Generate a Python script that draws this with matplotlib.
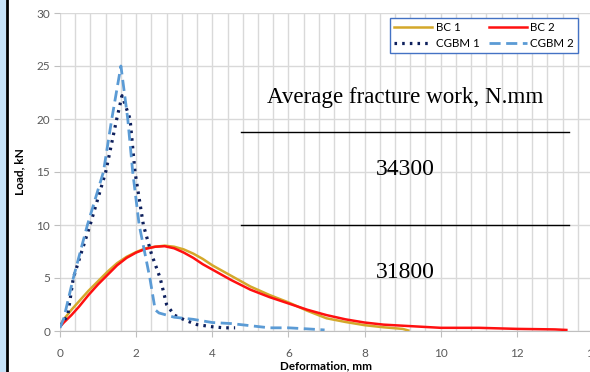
import numpy as np
import matplotlib.pyplot as plt
from matplotlib.patches import Rectangle
from matplotlib.lines import Line2D

# --- data (deformation mm, load kN) ---
bc1_x = [0.0, 0.1, 0.3, 0.5, 0.75, 1.0, 1.25, 1.5, 1.75, 2.0, 2.25, 2.5, 2.75, 3.0,
         3.25, 3.5, 3.75, 4.0, 4.5, 5.0, 5.5, 6.0, 6.5, 7.0, 7.5, 8.0, 8.5, 9.0, 9.15]
bc1_y = [0.5, 1.1, 2.0, 2.8, 3.8, 4.7, 5.6, 6.4, 7.0, 7.45, 7.8, 7.95, 8.05, 7.95,
         7.7, 7.3, 6.8, 6.2, 5.2, 4.2, 3.4, 2.7, 1.9, 1.2, 0.85, 0.55, 0.35, 0.2, 0.05]

bc2_x = [0.0, 0.1, 0.3, 0.5, 0.75, 1.0, 1.25, 1.5, 1.75, 2.0, 2.25, 2.5, 2.75, 3.0,
         3.25, 3.5, 3.75, 4.0, 4.5, 5.0, 5.5, 6.0, 6.5, 7.0, 7.5, 8.0, 8.5, 9.0,
         9.5, 10.0, 11.0, 12.0, 13.0, 13.3]
bc2_y = [0.4, 0.8, 1.5, 2.3, 3.4, 4.4, 5.3, 6.2, 6.9, 7.4, 7.75, 7.95, 8.0, 7.8,
         7.4, 6.9, 6.3, 5.8, 4.8, 3.9, 3.2, 2.6, 2.0, 1.5, 1.1, 0.8, 0.6, 0.5,
         0.4, 0.3, 0.3, 0.2, 0.15, 0.1]

cgbm1_x = [0.0, 0.1, 0.2, 0.35, 0.79, 1.2, 1.49, 1.63, 1.84, 1.97, 2.19, 2.4,
           2.63, 2.8, 3.0, 3.3, 3.6, 4.0, 4.3, 4.6]
cgbm1_y = [0.5, 1.0, 1.4, 5.0, 10.0, 15.0, 20.0, 22.2, 20.0, 15.0, 10.0, 7.3,
           5.0, 2.5, 1.5, 1.0, 0.6, 0.4, 0.3, 0.3]

cgbm2_x = [0.0, 0.1, 0.35, 0.72, 1.14, 1.36, 1.6, 1.78, 1.91, 2.08, 2.36, 2.5,
           2.6, 3.0, 3.5, 4.0, 4.5, 5.0, 5.5, 6.0, 6.5, 6.95]
cgbm2_y = [0.3, 1.2, 5.0, 10.0, 15.0, 20.0, 25.0, 20.0, 15.0, 10.0, 5.0, 2.0,
           1.7, 1.3, 1.1, 0.8, 0.7, 0.5, 0.3, 0.3, 0.2, 0.1]

work_title = "Average fracture work, N.mm"
work_values = ["34300", "31800"]

fig = plt.figure(figsize=(5.9, 3.72), dpi=100)
ax = fig.add_axes([60/590, 41/372, 533/590, 318/372])

l_bc1, = ax.plot(bc1_x, bc1_y, color="#d4a82a", lw=1.8, label="BC 1", zorder=3)
l_bc2, = ax.plot(bc2_x, bc2_y, color="#ff1010", lw=1.8, label="BC 2", zorder=4)
l_cg1, = ax.plot(cgbm1_x, cgbm1_y, color="#0d1f5c", lw=2.3, linestyle=(0, (0.8, 1.6)),
                 label="CGBM 1", zorder=5)
l_cg2, = ax.plot(cgbm2_x, cgbm2_y, color="#5b9bd5", lw=2.0, linestyle=(0, (4, 2)),
                 label="CGBM 2", zorder=5)

ax.set_xlim(0, 14)
ax.set_ylim(0, 30)
ax.set_xticks(np.arange(0, 15, 2))
ax.set_xticks(np.arange(0, 14.01, 0.4), minor=True)
ax.set_yticks(np.arange(0, 31, 5))
ax.grid(True, which="both", axis="x", color="#d9d9d9", lw=1.0)
ax.grid(True, which="major", axis="y", color="#d9d9d9", lw=1.0)
ax.set_axisbelow(True)
for s in ["top", "right", "left"]:
    ax.spines[s].set_visible(False)
ax.spines["bottom"].set_color("#bfbfbf")
ax.tick_params(axis="x", which="minor", length=0)
ax.tick_params(axis="x", which="major", length=4, color="#bfbfbf", pad=8,
               labelsize=8.5, labelcolor="#595959")
ax.tick_params(axis="y", length=4, color="#bfbfbf", pad=3, labelsize=8.5, labelcolor="#595959")
for lab in ax.get_xticklabels() + ax.get_yticklabels():
    lab.set_family("Lato")

ax.set_xlabel("Deformation, mm", fontsize=8.4, fontweight="bold", family="Lato", labelpad=1)
ax.set_ylabel("Load, kN", fontsize=8.6, fontweight="bold", family="Lato", labelpad=8)

# fracture work table
ax.text(9.06, 22.0, work_title, family="Liberation Serif", fontsize=16.6,
        ha="center", va="center")
ax.plot([4.75, 13.37], [18.8, 18.8], color="black", lw=1.0, zorder=6)
ax.plot([4.75, 13.37], [10.0, 10.0], color="black", lw=1.0, zorder=6)
ax.text(9.06, 15.2, work_values[0], family="Liberation Serif", fontsize=17,
        ha="center", va="center")
ax.text(9.06, 5.5, work_values[1], family="Liberation Serif", fontsize=17,
        ha="center", va="center")

leg = ax.legend([l_bc1, l_cg1, l_bc2, l_cg2], ["BC 1", "CGBM 1", "BC 2", "CGBM 2"],
                ncol=2, loc="upper left", bbox_to_anchor=(390/590, 1 - 18/372),
                bbox_transform=fig.transFigure, borderaxespad=0,
                prop={"family": "Lato", "size": 8.3}, frameon=True,
                fancybox=False, handlelength=3.3, handletextpad=0.3,
                columnspacing=0.8, borderpad=0.35, labelspacing=0.4)
leg.get_frame().set_edgecolor("#4472c4")
leg.get_frame().set_linewidth(1.0)
leg.get_frame().set_alpha(1)

# left page border
fig.patches.append(Rectangle((0, 0), 5/590, 1, transform=fig.transFigure,
                             color="#c6e2f7", zorder=0))
fig.lines.append(Line2D([6.5/590, 6.5/590], [0, 1], transform=fig.transFigure,
                        color="black", lw=2))

fig.savefig("out.png", dpi=100)
